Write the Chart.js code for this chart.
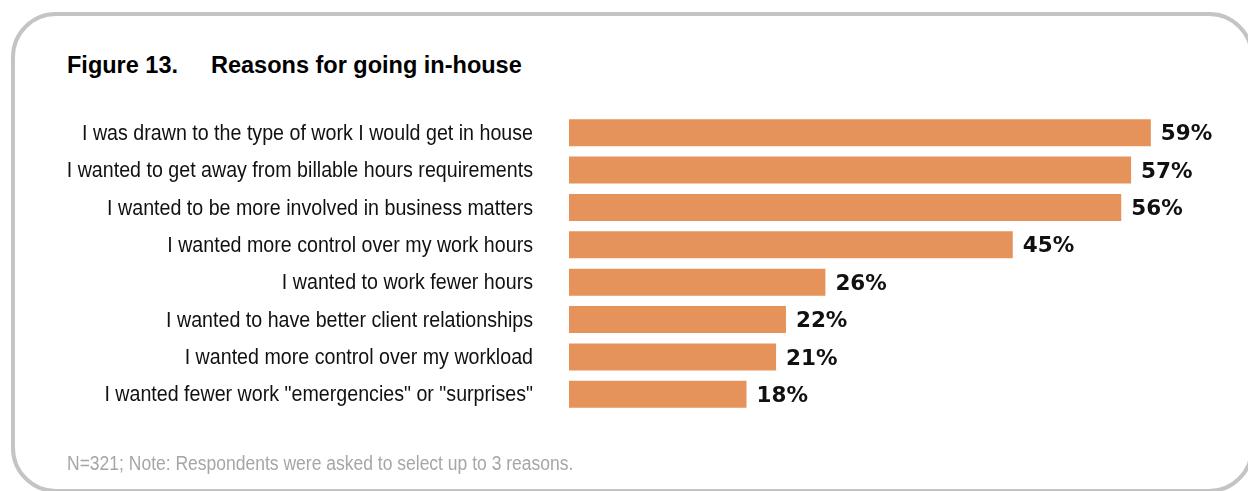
<!DOCTYPE html>
<html lang="en">
<head>
  <meta charset="UTF-8">
  <title>Reasons for going in-house</title>
  <script src="https://cdn.jsdelivr.net/npm/chart.js"></script>
  <style>
    html, body { margin: 0; padding: 0; background: #fff; width: 1248px; height: 491px; overflow: hidden; }
    .frame { position: absolute; left: 11px; top: 12px; width: 1235px; height: 473px; border: 4px solid #c4c4c4; border-radius: 45px; }
    .title { position: absolute; top: 54px; font: bold 23.5px/23.5px 'Liberation Sans', Arial, sans-serif; color: #000; white-space: nowrap; }
    .note { position: absolute; left: 67px; top: 453px; font: 20px/20px 'Liberation Sans', Arial, sans-serif; color: #a6a6a6;
            white-space: nowrap; transform: scaleX(0.875); transform-origin: 0 0; }
    #wrap { position: absolute; left: 0; top: 0; width: 1248px; height: 491px; }
  </style>
</head>
<body>
  <div class="frame"></div>
  <div class="title" style="left:67px">Figure 13.</div>
  <div class="title" style="left:211px">Reasons for going in-house</div>
  <div id="wrap"><canvas id="chart"></canvas></div>
  <div class="note">N=321; Note: Respondents were asked to select up to 3 reasons.</div>

  <script>
    // Data
    const reasons = [
      'I was drawn to the type of work I would get in house',
      'I wanted to get away from billable hours requirements',
      'I wanted to be more involved in business matters',
      'I wanted more control over my work hours',
      'I wanted to work fewer hours',
      'I wanted to have better client relationships',
      'I wanted more control over my workload',
      'I wanted fewer work "emergencies" or "surprises"'
    ];
    const shares = [59, 57, 56, 45, 26, 22, 21, 18];

    // category labels in a condensed face (squeezed Liberation Sans)
    const narrowLabels = {
      id: 'narrowLabels',
      afterDraw(chart) {
        const ctx = chart.ctx;
        const y = chart.scales.y;
        ctx.save();
        ctx.font = '22px "Liberation Sans", Arial, sans-serif';
        ctx.fillStyle = '#111';
        ctx.textAlign = 'right';
        ctx.textBaseline = 'middle';
        y.ticks.forEach((t, i) => {
          ctx.save();
          ctx.translate(y.right - 36, y.getPixelForTick(i) + 1);
          ctx.scale(0.893, 1);
          ctx.fillText(y.getLabelForValue(t.value), 0, 0);
          ctx.restore();
        });
        ctx.restore();
      }
    };

    // percentage labels to the right of each bar
    const valueLabels = {
      id: 'valueLabels',
      afterDatasetsDraw(chart) {
        const ctx = chart.ctx;
        const meta = chart.getDatasetMeta(0);
        ctx.save();
        ctx.font = 'bold 21.5px "DejaVu Sans", sans-serif';
        ctx.fillStyle = '#111';
        ctx.textAlign = 'left';
        ctx.textBaseline = 'middle';
        meta.data.forEach((bar, i) => {
          ctx.fillText(shares[i] + '%', bar.x + 10, bar.y + 2);
        });
        ctx.restore();
      }
    };

    new Chart(document.getElementById('chart'), {
      type: 'bar',
      data: {
        labels: reasons,
        datasets: [{
          data: shares,
          backgroundColor: '#e5935a',
          borderWidth: 0,
          barPercentage: 0.72,
          categoryPercentage: 1
        }]
      },
      options: {
        indexAxis: 'y',
        responsive: true,
        maintainAspectRatio: false,
        animation: false,
        layout: { padding: { top: 114, bottom: 78, right: 38, left: 0 } },
        plugins: { legend: { display: false }, tooltip: { enabled: false } },
        scales: {
          x: { display: false, min: 0, max: 65 },
          y: {
            grid: { display: false, drawTicks: false },
            border: { display: false },
            ticks: { display: false },
            afterFit(scale) { scale.width = 569; }
          }
        }
      },
      plugins: [valueLabels, narrowLabels]
    });
  </script>
</body>
</html>
